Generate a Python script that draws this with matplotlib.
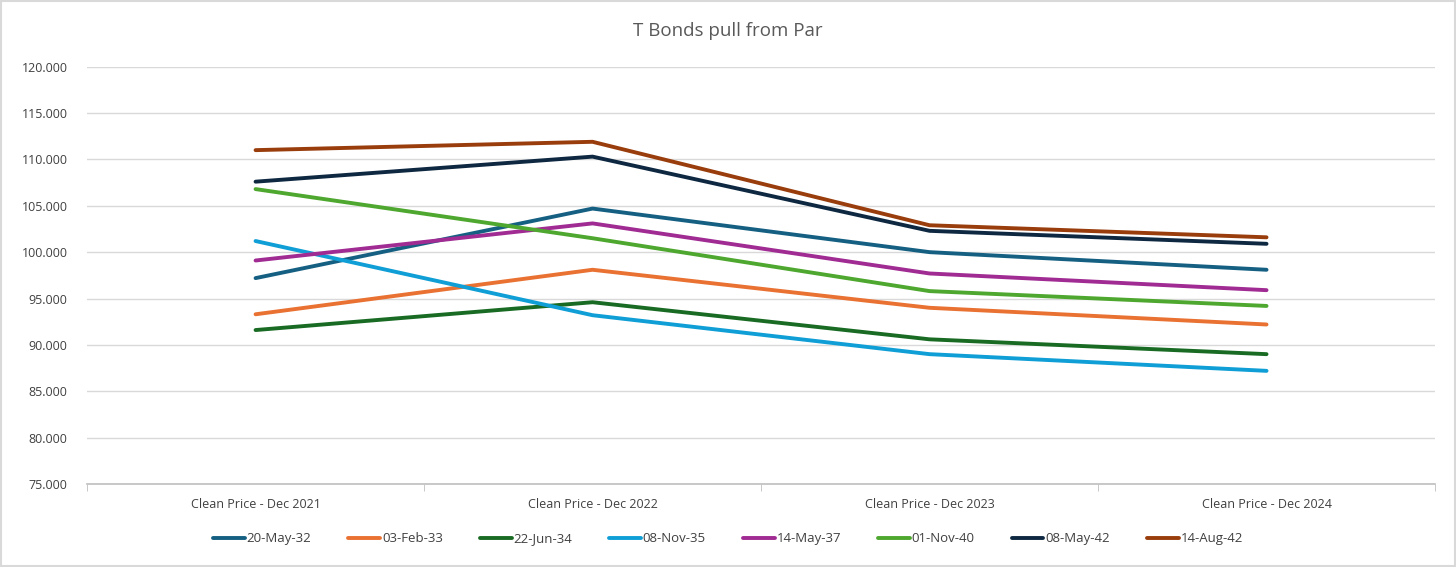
import matplotlib
matplotlib.use("Agg")
import matplotlib.pyplot as plt
from matplotlib.patches import Rectangle
from matplotlib.ticker import FormatStrFormatter, FixedLocator

categories = ["Clean Price - Dec 2021", "Clean Price - Dec 2022",
              "Clean Price - Dec 2023", "Clean Price - Dec 2024"]

may32 = [97.2, 104.7, 100.0, 98.1]
feb33 = [93.3, 98.1, 94.0, 92.2]
jun34 = [91.6, 94.6, 90.6, 89.0]
nov35 = [101.2, 93.2, 89.0, 87.2]
may37 = [99.1, 103.1, 97.7, 95.9]
nov40 = [106.8, 101.5, 95.8, 94.2]
may42 = [107.6, 110.3, 102.3, 100.9]
aug42 = [111.0, 111.9, 102.9, 101.6]

series_names = ["20-May-32", "03-Feb-33", "22-Jun-34", "08-Nov-35",
                "14-May-37", "01-Nov-40", "08-May-42", "14-Aug-42"]
series = [may32, feb33, jun34, nov35, may37, nov40, may42, aug42]
colors = ["#156082", "#e97132", "#196b24", "#0f9ed5",
          "#a02b93", "#4ea72e", "#0e2841", "#993d0c"]

plt.rcParams["font.family"] = ["Open Sans", "DejaVu Sans"]

fig = plt.figure(figsize=(14.56, 5.67), dpi=100)
ax = fig.add_axes([0.0598, 0.1464, 0.9258, 0.736])

x = list(range(len(categories)))
for name, vals, c in zip(series_names, series, colors):
    ax.plot(x, vals, color=c, lw=2.8, label=name, solid_capstyle="round")

ax.set_ylim(75, 120)
ax.set_yticks(range(75, 121, 5))
ax.yaxis.set_major_formatter(FormatStrFormatter("%.3f"))
ax.set_xlim(-0.5, 3.5)
ax.set_xticks(x)
ax.set_xticklabels(categories)
ax.xaxis.set_minor_locator(FixedLocator([-0.5, 0.5, 1.5, 2.5, 3.5]))
ax.tick_params(axis="x", which="major", length=0, pad=10, labelsize=9, colors="#404040")
ax.tick_params(axis="x", which="minor", length=5, color="#bfbfbf")
ax.tick_params(axis="y", length=0, pad=14, labelsize=9, colors="#404040")

ax.grid(axis="y", color="#d9d9d9", lw=1)
ax.set_axisbelow(True)
for s in ["left", "right", "top"]:
    ax.spines[s].set_visible(False)
ax.spines["bottom"].set_color("#bfbfbf")
ax.spines["bottom"].set_linewidth(1.2)

fig.text(0.5, 0.945, "T Bonds pull from Par", ha="center", va="center",
         fontsize=13.5, color="#595959")

fig.legend(loc="center", bbox_to_anchor=(0.5, 0.05), ncol=8, frameon=False,
           handlelength=2.4, handletextpad=0.15, columnspacing=2.8,
           fontsize=9.5, labelcolor="#404040")

fig.patches.append(Rectangle((0.001, 0.002), 0.998, 0.996, transform=fig.transFigure,
                             fill=False, edgecolor="#d9d9d9", lw=1.5))

fig.savefig("out.png", dpi=100)
